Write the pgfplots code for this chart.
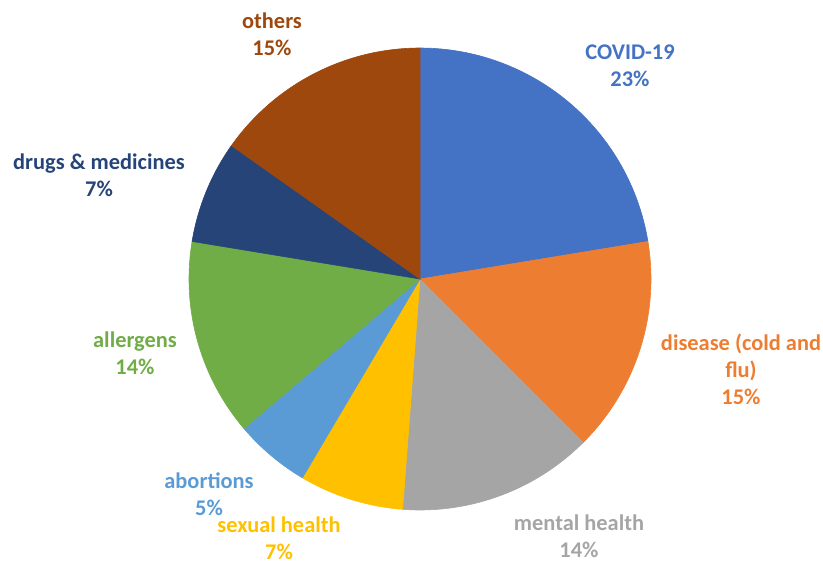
\documentclass[border=0pt]{standalone}
\usepackage{pgfplots}
\pgfplotsset{compat=1.18}
\usepackage{fontspec}
\setmainfont{Carlito}
\definecolor{cCovid}{HTML}{4472C4}
\definecolor{cDisease}{HTML}{ED7D31}
\definecolor{cMental}{HTML}{A5A5A5}
\definecolor{cSexual}{HTML}{FFC000}
\definecolor{cAbort}{HTML}{5B9BD5}
\definecolor{cAllerg}{HTML}{70AD47}
\definecolor{cDrugs}{HTML}{264478}
\definecolor{cOthers}{HTML}{9E480E}
% slice shares (percent), clockwise from the top
\def\vA{22.4}% COVID-19
\def\vB{15.1}% disease (cold and flu)
\def\vC{13.7}% mental health
\def\vD{7.3}% sexual health
\def\vE{5.3}% abortions
\def\vF{13.8}% allergens
\def\vG{7.2}% drugs & medicines
\def\vH{15.2}% others
\pgfmathsetmacro\tA{90}%
\pgfmathsetmacro\tB{\tA-3.6*\vA}%
\pgfmathsetmacro\tC{\tB-3.6*\vB}%
\pgfmathsetmacro\tD{\tC-3.6*\vC}%
\pgfmathsetmacro\tE{\tD-3.6*\vD}%
\pgfmathsetmacro\tF{\tE-3.6*\vE}%
\pgfmathsetmacro\tG{\tF-3.6*\vF}%
\pgfmathsetmacro\tH{\tG-3.6*\vG}%
\pgfmathsetmacro\tI{\tH-3.6*\vH}%
\begin{document}%
\begin{tikzpicture}
\begin{axis}[
  x=0.5pt, y=0.5pt,
  xmin=0, xmax=823, ymin=0, ymax=563,
  hide axis, clip=false,
  every axis plot/.append style={line width=0.3pt},
]
\addplot[draw=none, forget plot] coordinates {(0,0) (823,563)};
\addplot[fill=cCovid, draw=cCovid, domain=\tB:\tA, samples=60] ({420+231*cos(x)},{284+231*sin(x)}) -- (axis cs:420,284) -- cycle;
\addplot[fill=cDisease, draw=cDisease, domain=\tC:\tB, samples=60] ({420+231*cos(x)},{284+231*sin(x)}) -- (axis cs:420,284) -- cycle;
\addplot[fill=cMental, draw=cMental, domain=\tD:\tC, samples=60] ({420+231*cos(x)},{284+231*sin(x)}) -- (axis cs:420,284) -- cycle;
\addplot[fill=cSexual, draw=cSexual, domain=\tE:\tD, samples=40] ({420+231*cos(x)},{284+231*sin(x)}) -- (axis cs:420,284) -- cycle;
\addplot[fill=cAbort, draw=cAbort, domain=\tF:\tE, samples=40] ({420+231*cos(x)},{284+231*sin(x)}) -- (axis cs:420,284) -- cycle;
\addplot[fill=cAllerg, draw=cAllerg, domain=\tG:\tF, samples=60] ({420+231*cos(x)},{284+231*sin(x)}) -- (axis cs:420,284) -- cycle;
\addplot[fill=cDrugs, draw=cDrugs, domain=\tH:\tG, samples=40] ({420+231*cos(x)},{284+231*sin(x)}) -- (axis cs:420,284) -- cycle;
\addplot[fill=cOthers, draw=cOthers, domain=\tI:\tH, samples=60] ({420+231*cos(x)},{284+231*sin(x)}) -- (axis cs:420,284) -- cycle;
\tikzset{lbl/.style={align=center, font=\bfseries\fontsize{11.2}{13.6}\selectfont, inner sep=0pt}}
\node[lbl, text=cCovid] at (axis cs:630,497) {COVID-19\\23\%};
\node[lbl, text=cDisease] at (axis cs:741,194) {disease (cold and\\flu)\\15\%};
\node[lbl, text=cMental] at (axis cs:579,27) {mental health\\14\%};
\node[lbl, text=cSexual] at (axis cs:279,25) {sexual health\\7\%};
\node[lbl, text=cAbort] at (axis cs:209,69) {abortions\\5\%};
\node[lbl, text=cAllerg] at (axis cs:135,210) {allergens\\14\%};
\node[lbl, text=cDrugs] at (axis cs:99,388) {drugs \& medicines\\7\%};
\node[lbl, text=cOthers] at (axis cs:272,529) {others\\15\%};
\end{axis}
\end{tikzpicture}%
\end{document}
